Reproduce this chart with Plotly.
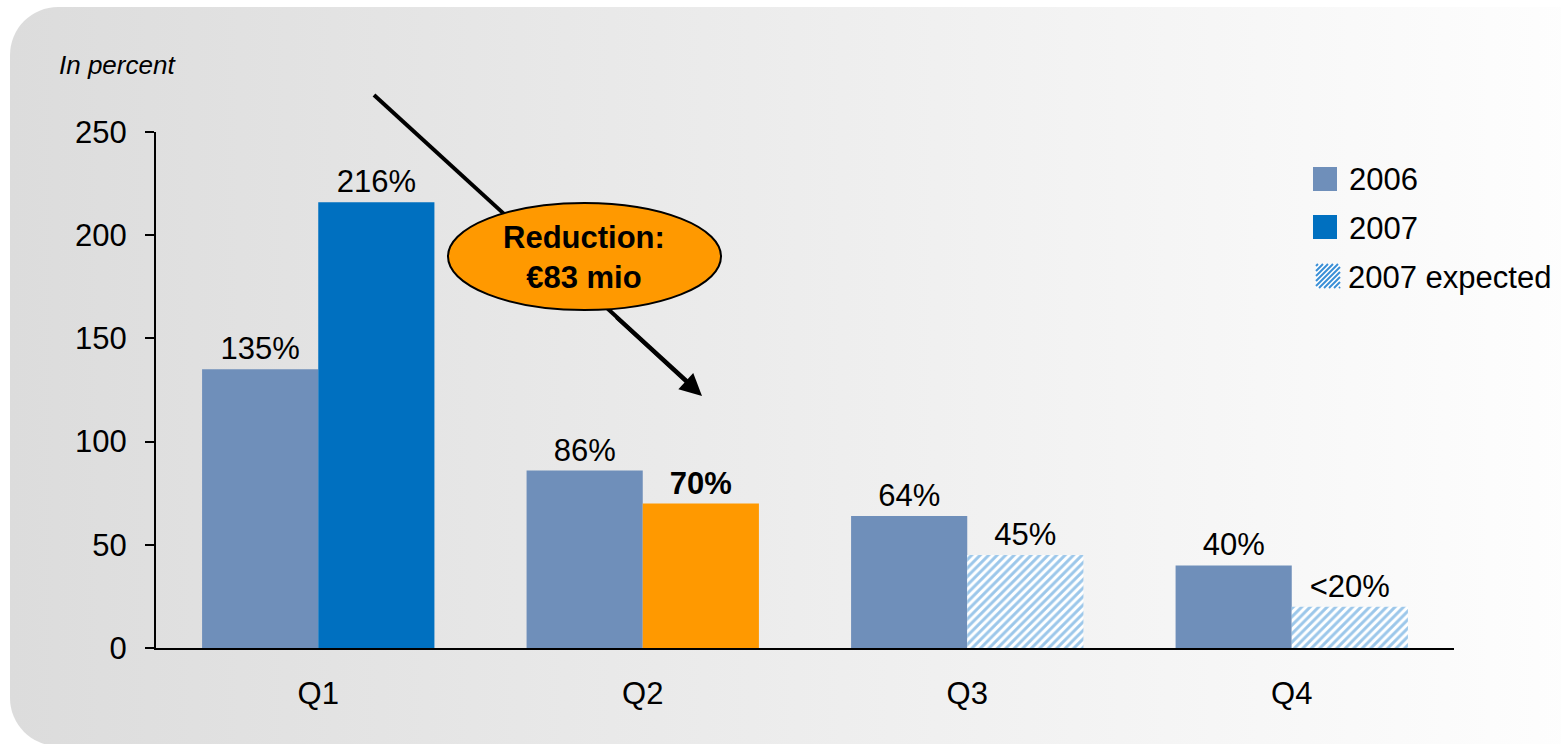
import base64
import plotly.graph_objects as go

categories = ["Q1", "Q2", "Q3", "Q4"]
v2006 = [135, 86, 64, 40]
v2007 = [216, 70, None, None]
v2007_expected = [None, None, 45, 20]
labels_2006 = ["135%", "86%", "64%", "40%"]
labels_2007 = ["216%", "<b>70%</b>", "", ""]
labels_expected = ["", "", "45%", "&lt;20%"]
series_names = ["2006", "2007", "2007 expected"]
colors_2007 = ["#0070C0", "#FF9900", "#0070C0", "#0070C0"]
y_ticks = [0, 50, 100, 150, 200, 250]

C2006 = "#6F8FBA"
C2007 = "#0070C0"
HATCH = "#3A8FD6"
FONT = "Liberation Sans, Arial, sans-serif"
W, H = 1561, 744
L, R, T, B = 156, 107, 132, 96
PW, PH = W - L - R, H - T - B


def px(x):
    return (x - L) / PW


def py(y):
    return (H - B - y) / PH


fig = go.Figure()
fig.add_trace(go.Bar(
    name=series_names[0], x=categories, y=v2006, text=labels_2006,
    textposition="outside", marker=dict(color=C2006, line=dict(width=0)),
    offsetgroup="a", cliponaxis=False, showlegend=False,
    textfont=dict(size=31, color="black", family=FONT),
))
fig.add_trace(go.Bar(
    name=series_names[1], x=categories, y=v2007, text=labels_2007,
    textposition="outside", marker=dict(color=colors_2007, line=dict(width=0)),
    offsetgroup="b", cliponaxis=False, showlegend=False,
    textfont=dict(size=31, color="black", family=FONT),
))
fig.add_trace(go.Bar(
    name=series_names[2], x=categories, y=v2007_expected, text=labels_expected,
    textposition="outside",
    marker=dict(color="white", line=dict(width=0),
                pattern=dict(shape="/", fgcolor=HATCH, bgcolor="white",
                             size=6, solidity=0.5)),
    offsetgroup="b", cliponaxis=False, showlegend=False,
    textfont=dict(size=31, color="black", family=FONT),
))

svg = f'''<svg xmlns="http://www.w3.org/2000/svg" width="{W}" height="{H}" viewBox="0 0 {W} {H}">
<defs><linearGradient id="g" x1="0" y1="0" x2="1" y2="0">
<stop offset="0" stop-color="#dcdcdc"/><stop offset="1" stop-color="#ffffff"/></linearGradient></defs>
<rect x="10" y="7" width="1620" height="739" rx="48" ry="48" fill="url(#g)"/></svg>'''
src = "data:image/svg+xml;base64," + base64.b64encode(svg.encode()).decode()

# manual legend (larger swatches than plotly's fixed legend symbols)
shapes = []
annotations = []
sw = [(1313, 167, 24, C2006), (1313, 215, 24, C2007)]
for x0, y0, s, c in sw:
    shapes.append(dict(type="rect", xref="paper", yref="paper",
                       x0=px(x0), x1=px(x0 + s), y0=py(y0 + s), y1=py(y0),
                       fillcolor=c, line=dict(width=0), layer="above"))
hx0, hy0, hs = 1316, 264, 24
shapes.append(dict(type="rect", xref="paper", yref="paper",
                   x0=px(hx0), x1=px(hx0 + hs), y0=py(hy0 + hs), y1=py(hy0),
                   fillcolor="white", line=dict(width=0), layer="above"))
step = 5
c = hx0 + hy0 + 2
while c < hx0 + hy0 + 2 * hs:
    # line x + y = c clipped to the square
    xa = max(hx0, c - (hy0 + hs))
    xb = min(hx0 + hs, c - hy0)
    if xb > xa:
        shapes.append(dict(type="line", xref="paper", yref="paper",
                           x0=px(xa), y0=py(c - xa), x1=px(xb), y1=py(c - xb),
                           line=dict(color=HATCH, width=2), layer="above"))
    c += step
for name, x, y in zip(series_names, [1347, 1347, 1346], [179, 228, 277]):
    annotations.append(dict(text=name, xref="paper", yref="paper", x=px(x), y=py(y),
                            xanchor="left", yanchor="middle", showarrow=False,
                            font=dict(size=31, family=FONT, color="black")))

# callout arrow and ellipse
shapes += [
    dict(type="line", xref="paper", yref="paper",
         x0=px(374), y0=py(95), x1=px(690), y1=py(384),
         line=dict(color="black", width=4), layer="above"),
    dict(type="circle", xref="paper", yref="paper",
         x0=px(448), x1=px(721), y0=py(310), y1=py(203),
         fillcolor="#FF9900", line=dict(color="black", width=2), layer="above"),
]
annotations += [
    dict(text="<i>In percent</i>", xref="paper", yref="paper",
         x=px(57), y=py(65), xanchor="left", yanchor="middle", showarrow=False,
         font=dict(size=26, family=FONT, color="black")),
    dict(text="<b>Reduction:<br>€83 mio</b>", xref="paper", yref="paper",
         x=px(584), y=py(257), xanchor="center", yanchor="middle", showarrow=False,
         font=dict(size=31, family=FONT, color="black")),
    dict(text="", xref="paper", yref="paper", x=px(702), y=py(396),
         ax=615 - 702, ay=316 - 396, showarrow=True, arrowhead=2,
         arrowsize=1.1, arrowwidth=4, arrowcolor="black"),
]

fig.update_layout(
    width=W, height=H,
    margin=dict(l=L, r=R, t=T, b=B, autoexpand=False),
    paper_bgcolor="white", plot_bgcolor="rgba(0,0,0,0)",
    barmode="group", bargap=0.284, bargroupgap=0,
    showlegend=False,
    font=dict(family=FONT, size=31, color="black"),
    images=[dict(source=src, xref="paper", yref="paper",
                 x=px(0), y=py(0), sizex=W / PW, sizey=H / PH,
                 xanchor="left", yanchor="top", sizing="stretch", layer="below")],
    xaxis=dict(showline=True, linecolor="black", linewidth=2, ticks="",
               showgrid=False, zeroline=False, ticklabelstandoff=17,
               tickfont=dict(size=31, family=FONT, color="black")),
    yaxis=dict(range=[0, 250], tickvals=y_ticks, showline=True, linecolor="black",
               linewidth=2, ticks="outside", ticklen=9, tickwidth=2, tickcolor="black",
               showgrid=False, zeroline=False, ticklabelstandoff=12,
               tickfont=dict(size=31, family=FONT, color="black")),
    shapes=shapes,
    annotations=annotations,
)

fig.write_html("out.html")
